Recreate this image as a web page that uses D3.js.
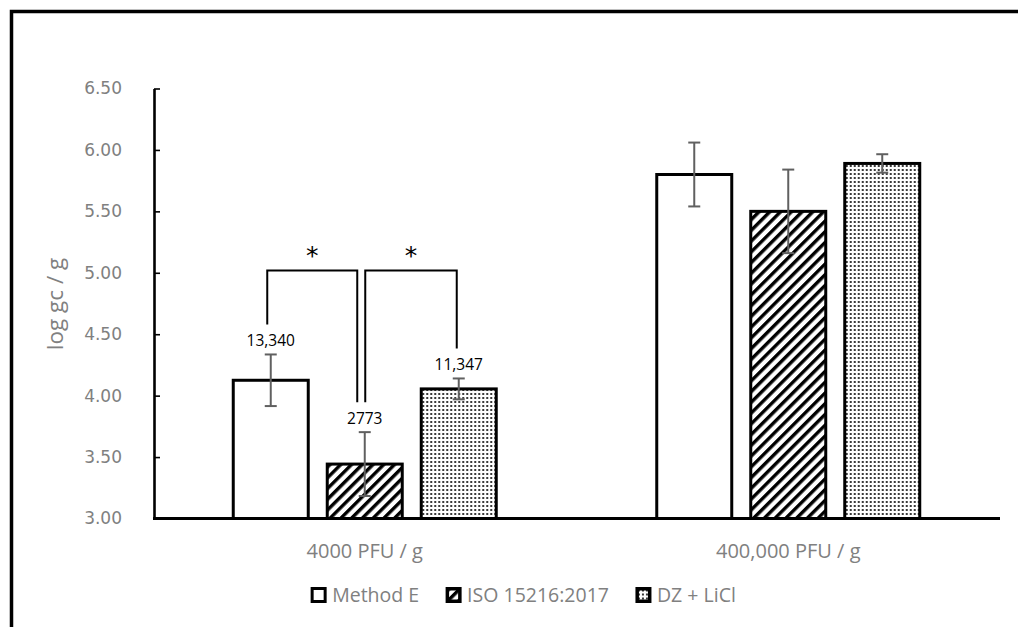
<!DOCTYPE html>
<html>
<head>
<meta charset="utf-8">
<script src="https://cdn.jsdelivr.net/npm/d3@7"></script>
<style>
  html, body { margin: 0; padding: 0; background: #fff; }
  svg { display: block; }
</style>
</head>
<body>
<svg id="chart" width="1018" height="627"></svg>
<script>
// Sample spike levels (x categories) and concentration methods (series)
const categories = ["4000 PFU / g", "400,000 PFU / g"];
const seriesNames = ["Method E", "ISO 15216:2017", "DZ + LiCl"];

// Mean recovered genome copies per gram for the low spike (shown as labels)
const lowSpikeCopies = [13340, 2773, 11347];
// Mean log gc/g per method, one array per spike level
const lowSpikeLog = lowSpikeCopies.map(v => Math.log10(v));
const highSpikeLog = [5.80, 5.50, 5.89];
// Standard deviations (log units)
const lowSpikeErr = [0.21, 0.26, 0.085];
const highSpikeErr = [0.26, 0.34, 0.075];

const yTicks = [3.0, 3.5, 4.0, 4.5, 5.0, 5.5, 6.0, 6.5];
const yLabel = "log gc / g";

// Significance brackets: pairs of series indices within the low spike group
const sigPairs = [[0, 1], [1, 2]];

const rows = categories.map((c, i) => ({
  category: c,
  values: seriesNames.map((s, j) => ({
    series: s,
    si: j,
    value: i === 0 ? lowSpikeLog[j] : highSpikeLog[j],
    err: i === 0 ? lowSpikeErr[j] : highSpikeErr[j],
    label: i === 0 ? d3.format(lowSpikeCopies[j] >= 10000 ? ",d" : "d")(lowSpikeCopies[j]) : null
  }))
}));

const svg = d3.select("#chart");
const plot = { left: 153, right: 1000, top: 88.5, bottom: 518.5 };

const x0 = d3.scaleBand().domain(categories)
  .range([plot.left, plot.right]).paddingInner(0.379).paddingOuter(0.1895);
const x1 = d3.scaleBand().domain(seriesNames)
  .range([0, x0.bandwidth()]).paddingInner(19 / 94).paddingOuter(0);
const y = d3.scaleLinear().domain([3, 6.5]).range([plot.bottom, plot.top]);

// Fill patterns
const defs = svg.append("defs");
const hatch = defs.append("pattern").attr("id", "hatch")
  .attr("patternUnits", "userSpaceOnUse").attr("width", 7.6).attr("height", 7.6)
  .attr("patternTransform", "rotate(45)");
hatch.append("rect").attr("width", 7.6).attr("height", 7.6).attr("fill", "#fff");
hatch.append("rect").attr("x", 0).attr("width", 3.4).attr("height", 7.6).attr("fill", "#000");

const dots = defs.append("pattern").attr("id", "dots")
  .attr("patternUnits", "userSpaceOnUse").attr("width", 4).attr("height", 4);
dots.append("rect").attr("width", 4).attr("height", 4).attr("fill", "#fff");
dots.append("rect").attr("x", 1).attr("y", 1).attr("width", 2).attr("height", 2).attr("fill", "#3a3a3a");

const fills = ["#fff", "url(#hatch)", "url(#dots)"];

// Outer frame
svg.append("rect").attr("x", 11.5).attr("y", 11.5)
  .attr("width", 1030).attr("height", 640)
  .attr("fill", "none").attr("stroke", "#000").attr("stroke-width", 3.5);

// Y axis with inward ticks
const yAxis = d3.axisLeft(y).tickValues(yTicks).tickFormat(d3.format(".2f"))
  .tickSizeInner(-6).tickSizeOuter(0).tickPadding(32);
const gy = svg.append("g").attr("transform", `translate(${plot.left + 1},0)`).call(yAxis);
gy.select(".domain").attr("stroke", "#000").attr("stroke-width", 2.6);
gy.selectAll(".tick line").attr("stroke", "#000").attr("stroke-width", 1.6);
gy.selectAll(".tick text")
  .attr("fill", "#808080").attr("font-family", "DejaVu Sans").attr("font-size", 17);

// Y axis title
svg.append("text")
  .attr("transform", `translate(63,304) rotate(-90)`)
  .attr("text-anchor", "middle")
  .attr("fill", "#808080").attr("font-family", "Open Sans").attr("font-size", 22.5)
  .text(yLabel);

// Bars
const groups = svg.append("g").selectAll("g").data(rows).join("g")
  .attr("transform", d => `translate(${x0(d.category)},0)`);

groups.selectAll("rect").data(d => d.values).join("rect")
  .attr("x", d => x1(d.series))
  .attr("y", d => y(d.value))
  .attr("width", x1.bandwidth())
  .attr("height", d => y(3) - y(d.value))
  .attr("fill", d => fills[d.si])
  .attr("stroke", "#000").attr("stroke-width", 3);

// Error bars
const eb = groups.selectAll("g.err").data(d => d.values).join("g").attr("class", "err")
  .attr("stroke", "#606060").attr("stroke-width", 2);
eb.append("line")
  .attr("x1", d => x1(d.series) + x1.bandwidth() / 2).attr("x2", d => x1(d.series) + x1.bandwidth() / 2)
  .attr("y1", d => y(d.value + d.err)).attr("y2", d => y(d.value - d.err));
[1, -1].forEach(s => {
  eb.append("line")
    .attr("x1", d => x1(d.series) + x1.bandwidth() / 2 - 6).attr("x2", d => x1(d.series) + x1.bandwidth() / 2 + 6)
    .attr("y1", d => y(d.value + s * d.err)).attr("y2", d => y(d.value + s * d.err));
});

// X axis line
svg.append("line").attr("x1", plot.left).attr("x2", plot.right)
  .attr("y1", plot.bottom).attr("y2", plot.bottom)
  .attr("stroke", "#000").attr("stroke-width", 3);

// Category labels
svg.append("g").selectAll("text").data(categories).join("text")
  .attr("x", d => x0(d) + x0.bandwidth() / 2).attr("y", 558)
  .attr("text-anchor", "middle")
  .attr("fill", "#808080").attr("font-family", "Open Sans").attr("font-size", 20)
  .text(d => d);

// Value labels above the low spike bars
const low = rows[0];
const gx = x0(low.category);
const labelBase = d => y(d.value + d.err) - 8;
svg.append("g").selectAll("text").data(low.values).join("text")
  .attr("x", d => gx + x1(d.series) + x1.bandwidth() / 2)
  .attr("y", labelBase)
  .attr("text-anchor", "middle")
  .attr("fill", "#000").attr("font-family", "Open Sans").attr("font-size", 15.5)
  .text(d => d.label);

// Significance brackets
const topY = 270.5;
const legOffsets = [[-3.5, -7.5], [0.5, -2]];
const br = svg.append("g");
sigPairs.forEach(([a, b], k) => {
  const va = low.values[a], vb = low.values[b];
  const xa = gx + x1(va.series) + x1.bandwidth() / 2 + legOffsets[k][0];
  const xb = gx + x1(vb.series) + x1.bandwidth() / 2 + legOffsets[k][1];
  const ya = labelBase(va) - 22, yb = labelBase(vb) - 22;
  br.append("path")
    .attr("d", `M${xa},${ya}V${topY}H${xb}V${yb}`)
    .attr("fill", "none").attr("stroke", "#000").attr("stroke-width", 2);
  br.append("text")
    .attr("x", (xa + xb) / 2).attr("y", topY - 7)
    .attr("text-anchor", "middle")
    .attr("fill", "#000").attr("font-family", "DejaVu Sans").attr("font-size", 25)
    .text("*");
});

// Legend
const legend = svg.append("g");
const items = legend.selectAll("g").data(seriesNames).join("g");
items.append("rect").attr("width", 13).attr("height", 13)
  .attr("fill", (d, i) => i === 0 ? "#fff" : "#000")
  .attr("stroke", "#000").attr("stroke-width", 3);
items.filter((d, i) => i > 0).append("rect")
  .attr("x", 2).attr("y", 2).attr("width", 9).attr("height", 9)
  .attr("fill", (d, i) => i === 0 ? "url(#hatch)" : "url(#dots)");
items.append("text").attr("x", 20).attr("y", 13)
  .attr("fill", "#808080").attr("font-family", "Open Sans").attr("font-size", 19.5)
  .text(d => d);
const widths = [];
items.each(function () {
  const w = d3.select(this).select("text").node().getComputedTextLength();
  widths.push(20 + w);
});
const total = d3.sum(widths) + 28 * (widths.length - 1);
let cursor = 524 - total / 2;
items.attr("transform", (d, i) => {
  const t = `translate(${cursor},588.5)`;
  cursor += widths[i] + 28;
  return t;
});
</script>
</body>
</html>
